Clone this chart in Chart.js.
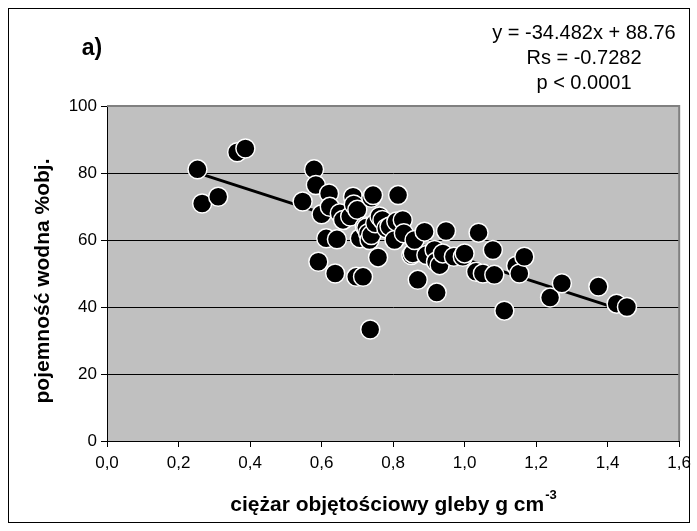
<html>
<head>
<meta charset="utf-8">
<script src="https://cdn.jsdelivr.net/npm/chart.js@4/dist/chart.umd.min.js"></script>
<style>
body {margin:0; background:#fff;}
#canvas {display:block;}
</style>
</head>
<body>
<canvas id="canvas" width="697" height="531"></canvas>
<script>
// bulk density (g cm-3) and water capacity (% vol.)
var density = [0.253,0.266,0.311,0.364,0.387,0.547,0.579,0.584,0.591,0.600,0.613,0.621,0.623,0.638,0.643,0.651,0.660,0.680,0.688,0.690,0.697,0.700,0.707,0.716,0.721,0.725,0.730,0.734,0.736,0.739,0.739,0.744,0.750,0.758,0.762,0.770,0.781,0.790,0.804,0.809,0.814,0.827,0.830,0.851,0.855,0.860,0.869,0.888,0.893,0.916,0.920,0.922,0.930,0.939,0.948,0.970,0.995,1.000,1.032,1.039,1.051,1.079,1.083,1.111,1.144,1.153,1.167,1.239,1.272,1.374,1.425,1.454];
var capacity = [81.1,70.9,72.9,86.2,87.3,71.5,81.1,76.4,53.5,67.7,60.5,73.9,69.9,50.0,60.2,68.0,66.0,67.0,72.9,70.6,49.0,69.0,60.5,49.0,64.0,63.7,62.0,60.0,33.3,61.5,72.6,73.4,65.0,54.8,67.0,66.0,63.5,64.0,60.0,65.5,73.4,66.0,62.0,55.5,56.0,60.0,48.1,62.5,55.5,57.0,53.5,44.3,52.5,56.0,62.7,55.0,55.0,56.0,50.5,62.2,50.0,57.0,49.6,38.9,52.3,50.0,55.0,42.8,47.1,46.1,41.0,40.0];

// trend line y = a*x + b
var slope = -34.482;
var intercept = 88.76;
var trendX = [0.253, 1.454];

var xTicks = [0,0.2,0.4,0.6,0.8,1.0,1.2,1.4,1.6];
var yTicks = [0,20,40,60,80,100];

var statLines = ["y = -34.482x + 88.76", "Rs = -0.7282", "p < 0.0001"];
var panelLabel = "a)";
var xTitle = "ciężar objętościowy gleby g cm";
var xTitleSup = "-3";
var yTitle = "pojemność wodna %obj.";

var FONT = "'Liberation Sans', Arial, sans-serif";

var points = [];
for (var i = 0; i < density.length; i++) points.push({x: density[i], y: capacity[i]});
var trend = trendX.map(function(x){ return {x: x, y: slope*x + intercept}; });

var decor = {
  id: 'decor',
  beforeDraw: function(chart) {
    var c = chart.ctx, a = chart.chartArea;
    c.save();
    c.fillStyle = '#fff';
    c.fillRect(0, 0, chart.width, chart.height);
    c.fillStyle = '#c0c0c0';
    c.fillRect(a.left, a.top, a.right - a.left, a.bottom - a.top);
    c.restore();
  },
  afterDraw: function(chart) {
    var c = chart.ctx, a = chart.chartArea;
    c.save();
    // plot frame, top and right
    c.strokeStyle = '#808080';
    c.lineWidth = 2;
    c.beginPath();
    c.moveTo(a.left, a.top); c.lineTo(a.right, a.top); c.lineTo(a.right, a.bottom);
    c.stroke();
    // outer frame
    c.strokeStyle = '#000';
    c.lineWidth = 1;
    c.strokeRect(8.5, 8.5, 681, 514);

    c.fillStyle = '#000';
    c.textAlign = 'center';
    c.textBaseline = 'middle';
    c.font = 'bold 23px ' + FONT;
    c.fillText(panelLabel, 92, 49);
    c.font = '20px ' + FONT;
    for (var i = 0; i < statLines.length; i++) c.fillText(statLines[i], 584, 33 + i*25);

    // x title with superscript
    c.font = 'bold 21px ' + FONT;
    var w = c.measureText(xTitle).width;
    c.font = 'bold 13px ' + FONT;
    var ws = c.measureText(xTitleSup).width;
    var x0 = 393 - (w + ws)/2;
    c.textAlign = 'left';
    c.font = 'bold 21px ' + FONT;
    c.fillText(xTitle, x0, 505);
    c.font = 'bold 13px ' + FONT;
    c.fillText(xTitleSup, x0 + w + 1, 495);

    // y title
    c.translate(43, 281);
    c.rotate(-Math.PI/2);
    c.textAlign = 'center';
    c.font = 'bold 21px ' + FONT;
    c.fillText(yTitle, 0, 0);
    c.restore();
  }
};

new Chart(document.getElementById('canvas').getContext('2d'), {
  type: 'scatter',
  data: {
    datasets: [{
      data: points,
      backgroundColor: '#000',
      borderColor: '#fff',
      borderWidth: 1.5,
      pointRadius: 9.5,
      order: 0
    }, {
      type: 'line',
      data: trend,
      borderColor: '#000',
      borderWidth: 3,
      pointRadius: 0,
      fill: false,
      order: 1
    }]
  },
  options: {
    responsive: false,
    animation: false,
    events: [],
    layout: {padding: {left: 0, right: 17, top: 106, bottom: 0}},
    plugins: {legend: {display: false}, tooltip: {enabled: false}},
    scales: {
      x: {
        type: 'linear', min: 0, max: 1.6,
        afterBuildTicks: function(s){ s.ticks = xTicks.map(function(v){ return {value: v}; }); },
        afterFit: function(s){ s.height = 90; },
        border: {color: '#000', width: 1},
        grid: {drawOnChartArea: false, tickLength: 6, tickColor: '#000'},
        ticks: {
          color: '#000', padding: 6, maxRotation: 0,
          font: {family: FONT, size: 17},
          callback: function(v){ return v.toFixed(1).replace('.', ','); }
        }
      },
      y: {
        type: 'linear', min: 0, max: 100,
        afterBuildTicks: function(s){ s.ticks = yTicks.map(function(v){ return {value: v}; }); },
        afterFit: function(s){ s.width = 107; },
        border: {color: '#000', width: 1},
        grid: {
          tickLength: 6, tickColor: '#000',
          color: function(ctx){ return ctx.tick && ctx.tick.value === 100 ? 'rgba(0,0,0,0)' : '#000'; }
        },
        ticks: {color: '#000', padding: 4, font: {family: FONT, size: 17}}
      }
    }
  },
  plugins: [decor]
});
</script>
</body>
</html>
